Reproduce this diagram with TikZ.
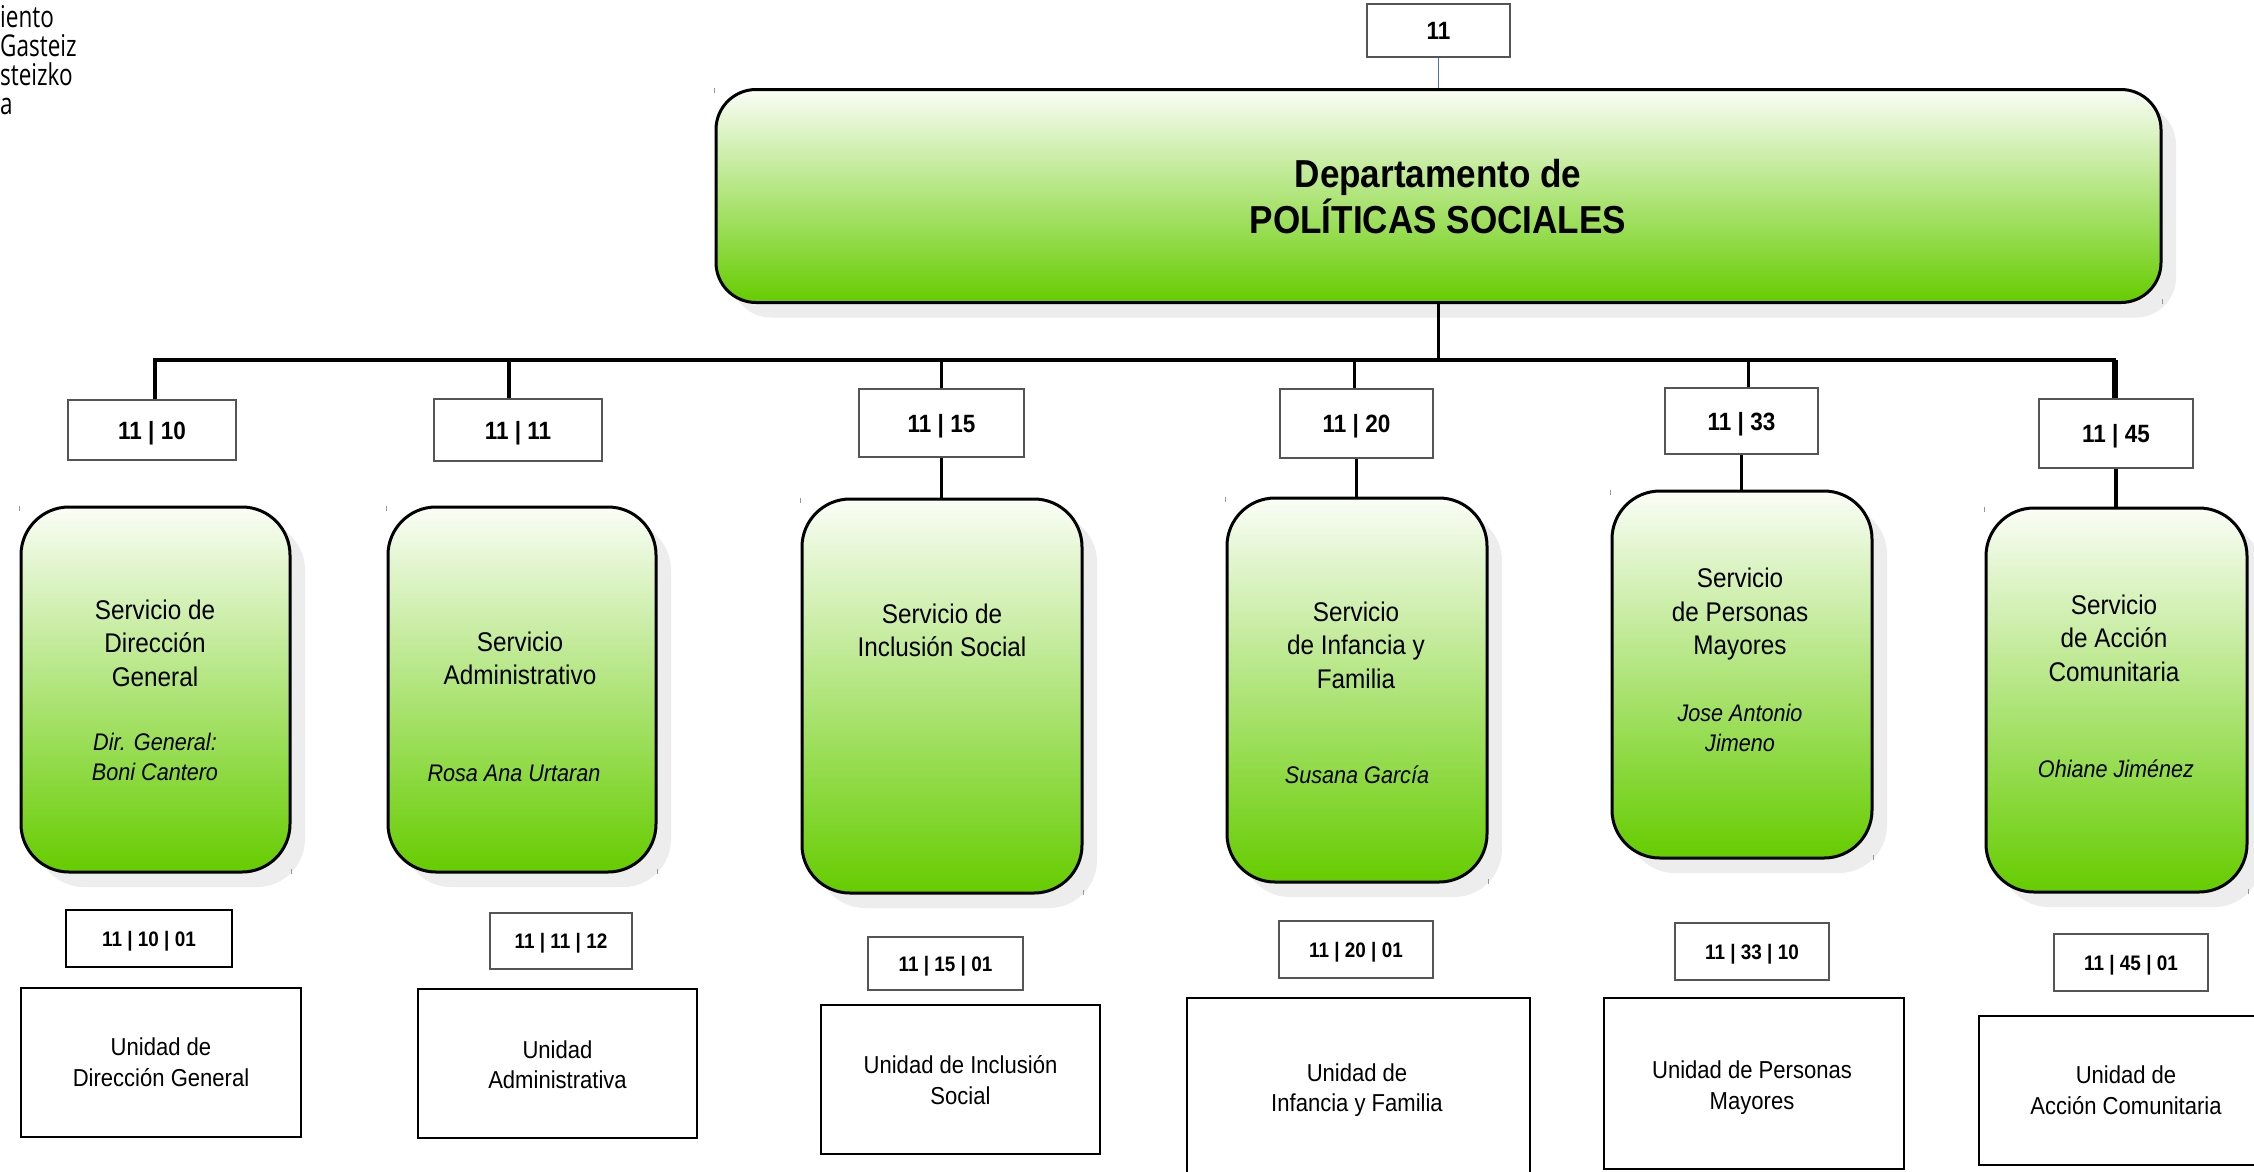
\documentclass[tikz,border=0pt]{standalone}
\usepackage{fontspec}
\setmainfont{Liberation Sans}[FakeStretch=0.9]
\newfontfamily\fragfont{Open Sans}[FakeStretch=0.75]
\usetikzlibrary{shadows}
\definecolor{gtop}{RGB}{250,253,246}
\definecolor{gbot}{RGB}{102,204,0}
\definecolor{shd}{RGB}{237,237,237}
\definecolor{frame}{RGB}{85,85,85}
\definecolor{blueln}{RGB}{68,114,196}
\definecolor{tickc}{RGB}{150,150,150}
\begin{document}
\begin{tikzpicture}[x=1pt,y=-1pt,
  svc/.style={draw=black, line width=3pt, rounded corners=48pt, top color=gtop, bottom color=gbot,
    drop shadow={shadow xshift=15pt, shadow yshift=-15pt, fill=shd, opacity=1}, inner sep=0pt},
  code/.style={draw=frame, line width=1.3pt, fill=white, inner sep=0pt, text depth=0pt,
    font=\bfseries\fontsize{25}{30}\selectfont},
  code3/.style={draw=frame, line width=1.3pt, fill=white, inner sep=0pt, text depth=0pt,
    font=\bfseries\fontsize{21}{25}\selectfont},
  unit/.style={draw=black, line width=2.5pt, fill=white, inner sep=0pt},
  stitle/.style={inner sep=0pt, align=center, font=\fontsize{27}{33.5}\selectfont},
  sname/.style={inner sep=0pt, align=center, font=\itshape\fontsize{24}{30}\selectfont},
  utext/.style={inner sep=0pt, align=center, font=\fontsize{24.5}{30.5}\selectfont},
  frag/.style={inner sep=0pt, anchor=base west, font=\fragfont\fontsize{30}{29}\selectfont},
  conn/.style={draw=black, line width=3.5pt},
  tickmark/.style={draw=tickc, line width=1.5pt}
]
\useasboundingbox (0,0) rectangle (2254,1171);
\clip (0,0) rectangle (2254,1171);
\fill[white] (0,0) rectangle (2254,1171);

% top-left text fragments
\node[frag] (f1) at (0,27) {iento};
\node[frag] (f2) at (0,56) {Gasteiz};
\node[frag] (f3) at (0,85) {steizko};
\node[frag] (f4) at (0,114) {a};

% top code and department
\node[code, minimum width=143pt, minimum height=53pt] (n11) at (1438.5,30.5) {11};
\node[svc, rounded corners=40pt, minimum width=1445pt, minimum height=213pt] (dept) at (1438.5,196) {};
\node[inner sep=0pt, align=center, font=\bfseries\fontsize{39}{46}\selectfont] (deptt) at (1438,197) {Departamento de\\POLÍTICAS SOCIALES};
\draw[blueln, line width=1.5pt] (n11.south) -- (n11.south |- dept.north);

% level 2 codes
\node[code, minimum width=168pt, minimum height=60pt] (c10) at (152,430) {11 | 10};
\node[code, minimum width=168pt, minimum height=62pt] (c11) at (518,430) {11 | 11};
\node[code, minimum width=165pt, minimum height=68pt] (c15) at (941.5,423) {11 | 15};
\node[code, minimum width=153pt, minimum height=69pt] (c20) at (1356.5,423.5) {11 | 20};
\node[code, minimum width=153pt, minimum height=66pt] (c33) at (1741.5,421) {11 | 33};
\node[code, minimum width=154pt, minimum height=69pt] (c45) at (2116,433.5) {11 | 45};

% bus
\coordinate (bus) at (0,360);
\draw[conn] (dept.south) -- (dept.south |- bus);
\draw[conn] ([xshift=3pt]c10.north) -- ([xshift=3pt]c10.north |- bus) -- (c45.north |- bus);
\draw[conn, line width=6pt] ([xshift=-1.5pt]c45.north |- bus) -- ([xshift=-1.5pt]c45.north);
\draw[conn] ([xshift=-9pt]c11.north) -- ([xshift=-9pt]c11.north |- bus);
\draw[conn] (c15.north) -- (c15.north |- bus);
\draw[conn] ([xshift=-2pt]c20.north) -- ([xshift=-2pt]c20.north |- bus);
\draw[conn] ([xshift=7pt]c33.north) -- ([xshift=7pt]c33.north |- bus);

% service boxes
\node[svc, minimum width=269pt, minimum height=365pt] (s10) at (155.5,689.5) {};
\node[svc, minimum width=268pt, minimum height=365pt] (s11) at (522,689.5) {};
\node[svc, minimum width=280pt, minimum height=394pt] (s15) at (942,696) {};
\node[svc, minimum width=260pt, minimum height=384pt] (s20) at (1357,690) {};
\node[svc, minimum width=260pt, minimum height=367pt] (s33) at (1742,674.5) {};
\node[svc, minimum width=261pt, minimum height=384pt] (s45) at (2116.5,700) {};

\draw[conn] (c15.south) -- (c15.south |- s15.north);
\draw[conn] (c20.south) -- (c20.south |- s20.north);
\draw[conn] (c33.south) -- (c33.south |- s33.north);
\draw[conn] (c45.south) -- (c45.south |- s45.north);

% small corner marks
\foreach \b in {dept,s10,s11,s15,s20,s33,s45}{
  \draw[tickmark] (\b.north west) -- ++(0,5);
  \draw[tickmark] (\b.south east) -- ++(0,-5);
}

% service texts
\node[stitle] (s10t) at (155,643) {Servicio de\\Dirección\\General};
\node[sname] (s10n) at (155,757) {Dir. General:\\Boni Cantero};
\node[stitle] (s11t) at (520,658.5) {Servicio\\Administrativo};
\node[sname] (s11n) at (514,773) {Rosa Ana Urtaran};
\node[stitle] (s15t) at (942,630.5) {Servicio de\\Inclusión Social};
\node[stitle] (s20t) at (1356,645) {Servicio\\de Infancia y\\Familia};
\node[sname] (s20n) at (1357,775) {Susana García};
\node[stitle] (s33t) at (1740,614.5) {Servicio\\de Personas\\Mayores};
\node[sname] (s33n) at (1740,728) {Jose Antonio\\Jimeno};
\node[stitle] (s45t) at (2114,638) {Servicio\\de Acción\\Comunitaria};
\node[sname] (s45n) at (2116,769) {Ohiane Jiménez};

% level 3 codes
\node[code3, draw=black, line width=2.5pt, minimum width=166pt, minimum height=57pt] (d10) at (149,938.5) {11 | 10 | 01};
\node[code3, minimum width=142pt, minimum height=56pt] (d11) at (561,941) {11 | 11 | 12};
\node[code3, minimum width=155pt, minimum height=53pt] (d15) at (945.5,963.5) {11 | 15 | 01};
\node[code3, minimum width=154pt, minimum height=57pt] (d20) at (1356,949.5) {11 | 20 | 01};
\node[code3, minimum width=154pt, minimum height=57pt] (d33) at (1752,951.5) {11 | 33 | 10};
\node[code3, minimum width=154pt, minimum height=57pt] (d45) at (2131,962.5) {11 | 45 | 01};

% unit boxes
\node[unit, minimum width=280pt, minimum height=149pt] (u10) at (161,1062.5) {};
\node[unit, minimum width=279pt, minimum height=149pt] (u11) at (557.5,1063.5) {};
\node[unit, minimum width=279pt, minimum height=149pt] (u15) at (960.5,1079.5) {};
\node[unit, minimum width=343pt, minimum height=202pt] (u20) at (1358.5,1099) {};
\node[unit, minimum width=300pt, minimum height=171pt] (u33) at (1754,1083.5) {};
\node[unit, minimum width=296pt, minimum height=149pt] (u45) at (2127,1090.5) {};

\node[utext] (u10t) at (161,1062) {Unidad de\\Dirección General};
\node[utext] (u11t) at (557.5,1064.5) {Unidad\\Administrativa};
\node[utext] (u15t) at (960.5,1080) {Unidad de Inclusión\\Social};
\node[utext] (u20t) at (1357,1090) {Unidad de\\Infancia y Familia};
\node[utext] (u33t) at (1752,1087.5) {Unidad de Personas\\Mayores};
\node[utext] (u45t) at (2126,1090) {Unidad de\\Acción Comunitaria};
\end{tikzpicture}
\end{document}
